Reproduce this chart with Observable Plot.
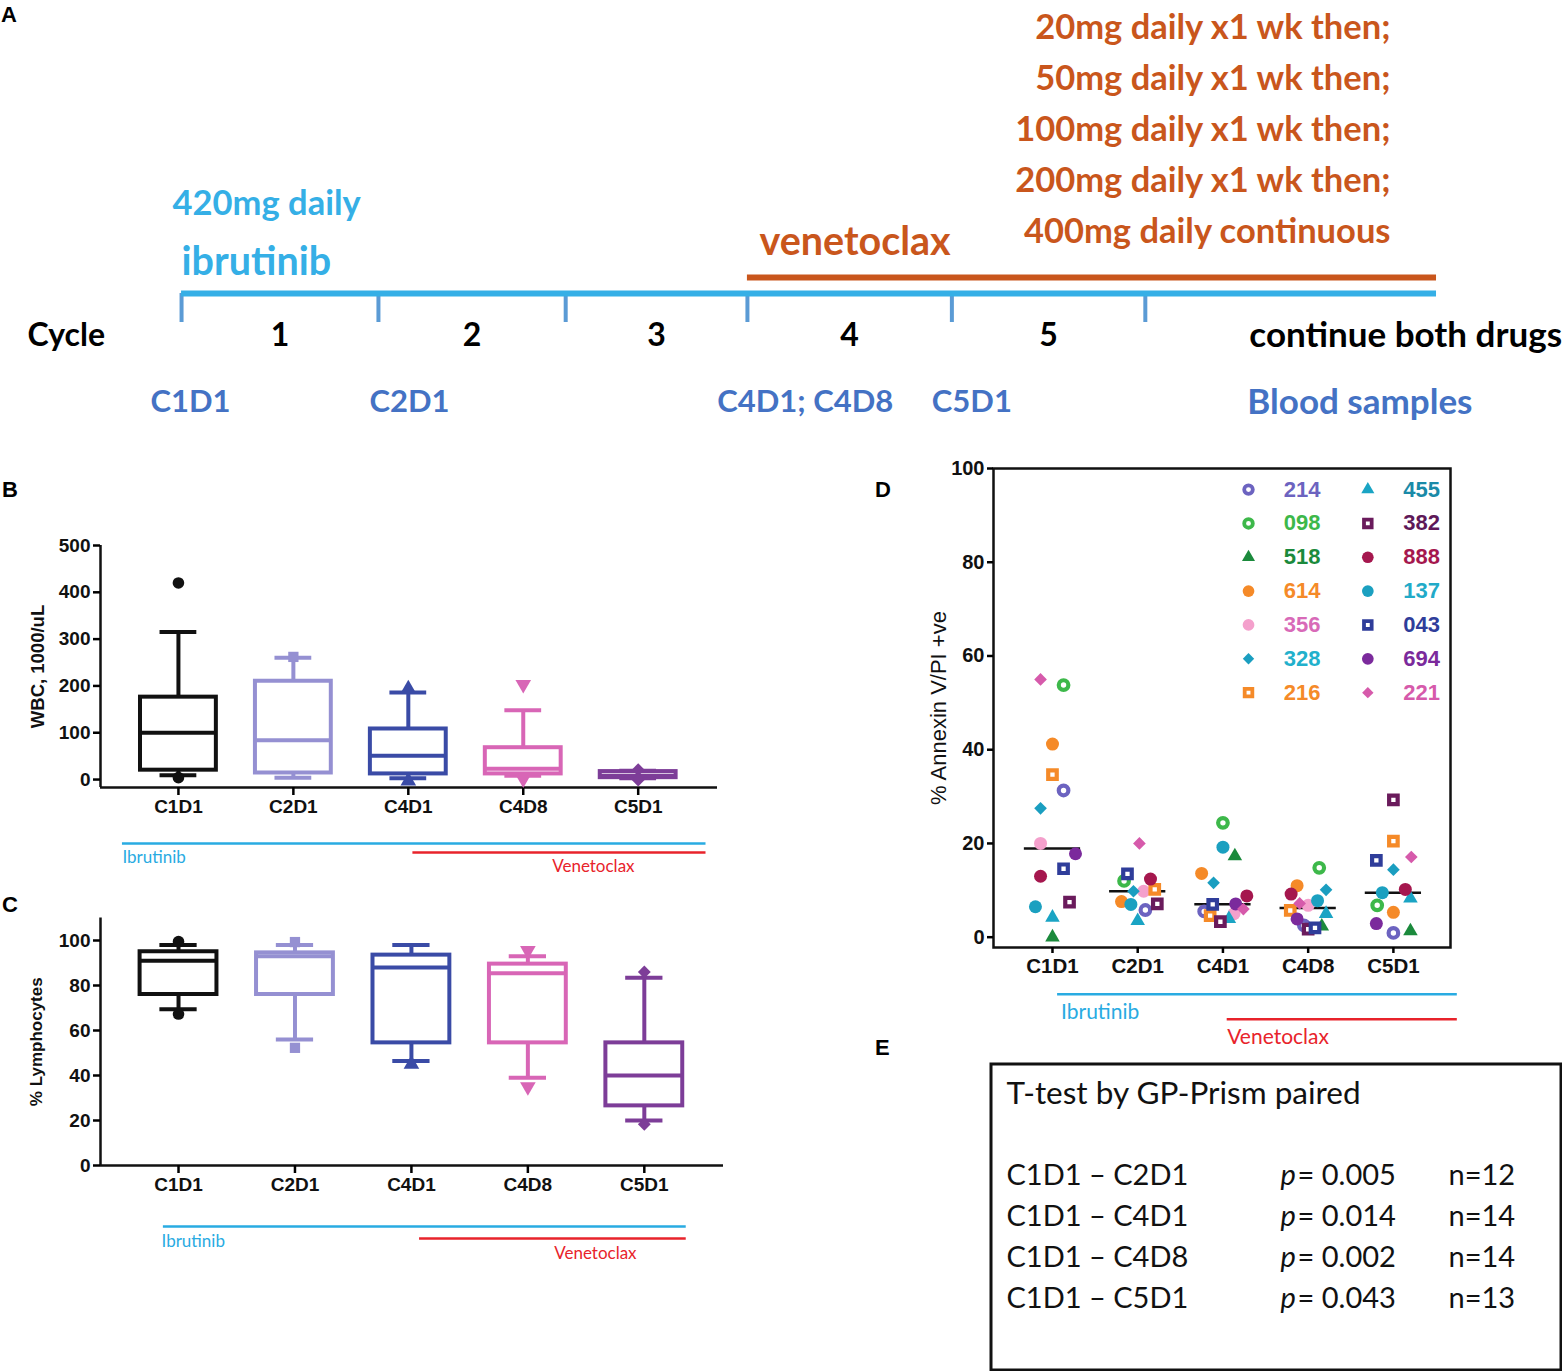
<!DOCTYPE html>
<html>
<head>
<meta charset="utf-8">
<script src="https://cdn.jsdelivr.net/npm/d3@7"></script>
<script src="https://cdn.jsdelivr.net/npm/@observablehq/plot@0.6"></script>
<style>
  html, body { margin: 0; padding: 0; background: #fff; }
  #page { position: relative; width: 1562px; height: 1371px; overflow: hidden; background: #fff; }
  .panel { position: absolute; }
  .panel svg { overflow: visible; display: block; background: transparent; }
  .plabel { position: absolute; font: bold 22px "Liberation Sans", Arial, sans-serif; color: #000; line-height: 22px; }
</style>
</head>
<body>
<div id="page"></div>
<script>
// ================= DATA =================
const timepoints = ["C1D1", "C2D1", "C4D1", "C4D8", "C5D1"];

// Panel A – treatment timeline (positions along the timeline)
const cycleNumbers = ["1", "2", "3", "4", "5"];
const cycleBoundaries = [0, 28.6, 55.8, 82.2, 111.9, 140];
const timelineEnd = 182.3;
const sampleLabels = ["C1D1", "C2D1", "C4D1; C4D8", "C5D1"];
const samplePositions = [1.3, 33.1, 90.6, 114.8];
const venetoclaxDoses = [
  "20mg daily x1 wk then;",
  "50mg daily x1 wk then;",
  "100mg daily x1 wk then;",
  "200mg daily x1 wk then;",
  "400mg daily continuous"
];

// Panel B – WBC (1000/uL) box summaries
const wbcWhiskerLow  = [9, 4, 3, 8, 3];
const wbcQ1          = [20, 14, 12, 12, 4];
const wbcMedian      = [100, 84, 51, 23, 8];
const wbcQ3          = [176, 210, 108, 68, 17];
const wbcWhiskerHigh = [315, 260, 186, 148, 19];
const wbcPointTime   = ["C1D1", "C1D1", "C2D1", "C4D1", "C4D1", "C4D8", "C4D8", "C5D1", "C5D1"];
const wbcPointValue  = [420, 4, 262, 194, -3, 203, 1, 21, -1];

// Panel C – % Lymphocytes box summaries
const lymWhiskerLow  = [69.5, 56, 46.5, 39, 20];
const lymQ1          = [76, 76, 54.5, 54.5, 26.5];
const lymMedian      = [91, 93, 88, 85.5, 40];
const lymQ3          = [95, 94.5, 93.5, 89.5, 54.5];
const lymWhiskerHigh = [98, 98, 98, 93, 83.5];
const lymPointTime   = ["C1D1", "C1D1", "C2D1", "C2D1", "C4D1", "C4D8", "C4D8", "C5D1", "C5D1"];
const lymPointValue  = [99.5, 67.3, 99.3, 52.3, 45, 95.5, 35, 86, 18.3];

// Panel D – % Annexin V/PI +ve per patient (order = legend order)
const patients = ["214", "098", "518", "614", "356", "328", "216", "455", "382", "888", "137", "043", "694", "221"];
const annexC1D1 = [31.3, 53.8, 0.0, 41.2, 20.0, 27.5, 34.7, 4.2, 7.5, 13.0, 6.5, 14.6, 17.8, 55.0];
const annexC2D1 = [5.8, 12.0, null, 7.6, 9.8, 9.8, 10.2, 3.5, 7.1, 12.4, 7.0, 13.5, null, 20.0];
const annexC4D1 = [5.5, 24.4, 17.3, 13.6, 5.0, 11.6, 4.6, 3.9, 3.3, 8.8, 19.2, 7.0, 7.1, 6.0];
const annexC4D8 = [2.5, 14.8, 2.3, 11.0, 6.8, 10.1, 5.7, 5.0, 1.7, 9.2, 7.8, 2.0, 3.9, 7.2];
const annexC5D1 = [0.9, 6.8, 1.3, 5.3, null, 14.4, 20.5, 8.3, 29.3, 10.2, 9.5, 16.4, 2.9, 17.1];
// horizontal scatter (jitter, in category widths) as drawn in the figure
const jitterC1D1 = [0.13, 0.13, 0, 0, -0.14, -0.14, 0, 0, 0.2, -0.14, -0.2, 0.13, 0.27, -0.14];
const jitterC2D1 = [0.09, -0.16, null, -0.19, 0.07, -0.05, 0.2, 0, 0.23, 0.15, -0.08, -0.12, null, 0.02];
const jitterC4D1 = [-0.22, 0, 0.14, -0.25, 0.13, -0.11, -0.15, 0.07, -0.03, 0.28, 0, -0.12, 0.15, 0.24];
const jitterC4D8 = [-0.05, 0.13, 0.16, -0.13, 0, 0.21, -0.21, 0.21, 0, -0.2, 0.11, 0.08, -0.13, -0.1];
const jitterC5D1 = [0, -0.19, 0.2, 0, null, 0, 0, 0.2, 0, 0.14, -0.13, -0.2, -0.2, 0.21];

// Panel E – paired t-tests
const comparisons = ["C1D1 – C2D1", "C1D1 – C4D1", "C1D1 – C4D8", "C1D1 – C5D1"];
const pValues = ["0.005", "0.014", "0.002", "0.043"];
const nValues = [12, 14, 14, 13];

// ================= STYLES =================
const ARIAL = "'Liberation Sans', Arial, sans-serif";
const CAL = "Lato, 'Open Sans', sans-serif";
const IBR = "#35afe6", IBR_TICK = "#5b9bd5", VEN = "#c9561c", SAMPLE = "#4472c4";
const ANN_BLUE = "#29abe2", ANN_RED = "#e8232b";
const boxColors = ["#111111", "#9590d2", "#3a4ba6", "#d866b6", "#7d3d98"];
const boxSymbols = ["circle", "square", "triangle", "triangle", "diamond2"];
const boxRotate = [0, 0, 0, 180, 0];
const patientColor = ["#6c63c0", "#3db84a", "#1b8a3c", "#f58a28", "#f4a0cc", "#1a9ec0", "#f58a28",
                      "#1aa4c4", "#6a1b5c", "#a5174e", "#1ba0c0", "#2f3d9a", "#7b2a9c", "#d65aab"];
const patientText  = ["#6c63c0", "#3db84a", "#1b8a3c", "#f58a28", "#d86ab8", "#22b0cc", "#f58a28",
                      "#1a8aa8", "#5e1858", "#a5174e", "#22aac8", "#2f3d9a", "#7b2a9c", "#d65aab"];
const patientSymbol = ["circle", "circle", "triangle", "circle", "circle", "diamond2", "square",
                       "triangle", "square", "circle", "circle", "square", "circle", "diamond2"];
const patientOpen = [true, true, false, false, false, false, true, false, true, false, false, true, false, false];

const page = document.getElementById("page");
function place(node, left, top) {
  const d = document.createElement("div");
  d.className = "panel";
  d.style.left = left + "px"; d.style.top = top + "px";
  d.appendChild(node);
  page.appendChild(d);
}
function label(txt, left, top) {
  const d = document.createElement("div");
  d.className = "plabel"; d.textContent = txt;
  d.style.left = left + "px"; d.style.top = top + "px";
  page.appendChild(d);
}

// ================= PANEL A =================
const txtA = {fontFamily: CAL, fontWeight: "bold", lineAnchor: "middle"};
const panelA = Plot.plot({
  width: 1562, height: 440, margin: 0,
  x: {domain: [-26.3, 200.6], range: [0, 1562], axis: null},
  y: {domain: [0, 440], range: [0, 440], axis: null},
  style: {background: "transparent"},
  marks: [
    Plot.ruleX(cycleBoundaries, {y1: 293, y2: 322, stroke: IBR_TICK, strokeWidth: 4}),
    Plot.ruleY([293], {x1: cycleBoundaries[0], x2: timelineEnd, stroke: IBR, strokeWidth: 6}),
    Plot.ruleY([277], {x1: cycleBoundaries[3], x2: timelineEnd, stroke: VEN, strokeWidth: 6}),
    Plot.text(["420mg daily"], {...txtA, x: cycleBoundaries[0], y: 203, dx: -9, textAnchor: "start", fill: IBR, fontSize: 34.5}),
    Plot.text(["ibrutinib"], {...txtA, x: cycleBoundaries[0], y: 262, textAnchor: "start", fill: IBR, fontSize: 39.5}),
    Plot.text(["venetoclax"], {...txtA, x: cycleBoundaries[3], y: 242, dx: 12, textAnchor: "start", fill: VEN, fontSize: 39.5}),
    Plot.text(venetoclaxDoses, {...txtA, text: d => d, x: timelineEnd, dx: -46, y: (d, i) => 27 + i * 51,
      textAnchor: "end", fill: VEN, fontSize: 34.5}),
    Plot.text(["Cycle"], {...txtA, frameAnchor: "left", dx: 27, y: 335, textAnchor: "start", fill: "#000", fontSize: 32}),
    Plot.text(cycleNumbers, {...txtA, text: d => d,
      x: (d, i) => (cycleBoundaries[i] + cycleBoundaries[i + 1]) / 2, y: 335, fill: "#000", fontSize: 32}),
    Plot.text(["continue both drugs"], {...txtA, x: cycleBoundaries[5], dx: 104, y: 335, textAnchor: "start", fill: "#000", fontSize: 35}),
    Plot.text(sampleLabels, {...txtA, text: d => d, x: (d, i) => samplePositions[i], y: 402, fill: SAMPLE, fontSize: 31}),
    Plot.text(["Blood samples"], {...txtA, x: cycleBoundaries[5], dx: 102, y: 402, textAnchor: "start", fill: SAMPLE, fontSize: 35})
  ]
});
place(panelA, 0, 0);

// ================= BOX PANELS (B, C) =================
function boxPanel(cfg) {
  const rows = timepoints.map((t, i) => ({
    i, lo: cfg.lo[i], q1: cfg.q1[i], med: cfg.med[i], q3: cfg.q3[i], hi: cfg.hi[i], c: boxColors[i]
  }));
  const pts = cfg.ptT.map((t, k) => ({i: timepoints.indexOf(t), v: cfg.ptV[k]}));
  const sw = 4, half = 0.33, cap = 0.16;
  const [x0, x1] = cfg.xDomain;
  const marks = [
    Plot.ruleX([x0], {y1: cfg.yDomain[0], y2: cfg.yTop, stroke: "#111", strokeWidth: 2.5}),
    Plot.ruleY([cfg.yDomain[0]], {x1: x0, x2: x1, stroke: "#111", strokeWidth: 2.5}),
    Plot.axisY({ticks: cfg.yTicks, tickSize: 7, tickPadding: 3, fontSize: 19, fontWeight: "bold",
      fontFamily: ARIAL, fill: "#111", strokeWidth: 2.5, label: null}),
    Plot.axisX({ticks: [0, 1, 2, 3, 4], tickFormat: i => timepoints[i], tickSize: 8, tickPadding: 4,
      fontSize: 19, fontWeight: "bold", fontFamily: ARIAL, fill: "#111", strokeWidth: 2.5, label: null}),
    Plot.text([cfg.yLabel], {frameAnchor: "left", textAnchor: "middle", dx: -cfg.labelOffset, rotate: -90,
      fontSize: cfg.labelSize, fontWeight: "bold", fontFamily: ARIAL, fill: "#111"}),
    Plot.ruleX(rows, {x: "i", y1: "q3", y2: "hi", stroke: "c", strokeWidth: sw}),
    Plot.ruleX(rows, {x: "i", y1: "lo", y2: "q1", stroke: "c", strokeWidth: sw}),
    Plot.ruleY(rows, {y: "hi", x1: d => d.i - cap, x2: d => d.i + cap, stroke: "c", strokeWidth: sw}),
    Plot.ruleY(rows, {y: "lo", x1: d => d.i - cap, x2: d => d.i + cap, stroke: "c", strokeWidth: sw}),
    Plot.rect(rows, {x1: d => d.i - half, x2: d => d.i + half, y1: "q1", y2: "q3", fill: "white", stroke: "c", strokeWidth: sw}),
    Plot.ruleY(rows, {y: "med", x1: d => d.i - half, x2: d => d.i + half, stroke: "c", strokeWidth: sw})
  ];
  timepoints.forEach((t, i) => {
    marks.push(Plot.dot(pts.filter(p => p.i === i), {x: "i", y: "v", symbol: boxSymbols[i], rotate: boxRotate[i],
      fill: boxColors[i], stroke: "none", r: 5.8}));
  });
  const a = cfg.annot;
  marks.push(
    Plot.ruleY([a.blueY], {x1: a.blueX1, x2: a.blueX2, stroke: ANN_BLUE, strokeWidth: 2.5}),
    Plot.text(["Ibrutinib"], {x: a.blueTextX, y: a.blueTextY, textAnchor: "start", fill: ANN_BLUE, fontSize: 17, fontFamily: CAL}),
    Plot.ruleY([a.redY], {x1: a.redX1, x2: a.blueX2, stroke: ANN_RED, strokeWidth: 2.5}),
    Plot.text(["Venetoclax"], {x: a.redTextX, y: a.redTextY, textAnchor: "middle", fill: ANN_RED, fontSize: 17, fontFamily: CAL})
  );
  return Plot.plot({
    width: cfg.width, height: cfg.height,
    marginLeft: cfg.mLeft, marginRight: cfg.mRight, marginTop: cfg.mTop, marginBottom: cfg.mBottom,
    x: {domain: cfg.xDomain}, y: {domain: cfg.yDomain},
    color: {type: "identity"},
    style: {background: "transparent", fontFamily: ARIAL},
    marks
  });
}

const panelB = boxPanel({
  lo: wbcWhiskerLow, q1: wbcQ1, med: wbcMedian, q3: wbcQ3, hi: wbcWhiskerHigh,
  ptT: wbcPointTime, ptV: wbcPointValue,
  xDomain: [-0.678, 4.69], yDomain: [-17, 500], yTop: 500, yTicks: [0, 100, 200, 300, 400, 500],
  yLabel: "WBC, 1000/uL", labelOffset: 62, labelSize: 18.5,
  width: 730, height: 350, mLeft: 100, mRight: 13, mTop: 15, mBottom: 93,
  annot: {blueY: -136.8, blueX1: -0.487, blueX2: 4.59, blueTextX: -0.487, blueTextY: -166.5,
          redY: -156, redX1: 2.04, redTextX: 3.61, redTextY: -186}
});
place(panelB, 0, 530);

const panelC = boxPanel({
  lo: lymWhiskerLow, q1: lymQ1, med: lymMedian, q3: lymQ3, hi: lymWhiskerHigh,
  ptT: lymPointTime, ptV: lymPointValue,
  xDomain: [-0.67, 4.68], yDomain: [0, 110], yTop: 110, yTicks: [0, 20, 40, 60, 80, 100],
  yLabel: "% Lymphocytes", labelOffset: 64, labelSize: 17,
  width: 730, height: 370, mLeft: 100, mRight: 7, mTop: 17.5, mBottom: 105,
  annot: {blueY: -27.1, blueX1: -0.13, blueX2: 4.36, blueTextX: -0.146, blueTextY: -33.8,
          redY: -32.4, redX1: 2.07, redTextX: 3.58, redTextY: -39.1}
});
place(panelC, 0, 900);

// ================= PANEL D =================
const annex = [annexC1D1, annexC2D1, annexC4D1, annexC4D8, annexC5D1];
const jitter = [jitterC1D1, jitterC2D1, jitterC4D1, jitterC4D8, jitterC5D1];
const medD = timepoints.map((t, i) => ({i, med: d3.median(annex[i].filter(v => v != null))}));
function markerStyle(k, scale) {
  const s = patientSymbol[k];
  const open = patientOpen[k];
  let r = s === "circle" ? (open ? 4.8 : 6.5) : s === "square" ? 4.8 : s === "triangle" ? 5.4 : 5.7;
  return {symbol: s, r: r * scale, fill: open ? "white" : patientColor[k],
          stroke: open ? patientColor[k] : "none", strokeWidth: open ? 4.2 * scale : 0};
}
const dMarks = [
  Plot.frame({stroke: "#111", strokeWidth: 2.5}),
  Plot.axisY({ticks: [0, 20, 40, 60, 80, 100], tickSize: 6, tickPadding: 3, fontSize: 20, fontWeight: "bold",
    fontFamily: ARIAL, fill: "#111", strokeWidth: 2.5, label: null}),
  Plot.axisX({ticks: [0, 1, 2, 3, 4], tickFormat: i => timepoints[i], tickSize: 6, tickPadding: 5,
    fontSize: 20.5, fontWeight: "bold", fontFamily: ARIAL, fill: "#111", strokeWidth: 2.5, label: null}),
  Plot.text(["% Annexin V/PI +ve"], {frameAnchor: "left", textAnchor: "middle", dx: -55, rotate: -90, fontSize: 22,
    fontFamily: ARIAL, fill: "#111"}),
  Plot.ruleY(medD, {y: "med", x1: d => d.i - 0.33, x2: d => d.i + 0.33, stroke: "#111", strokeWidth: 2.5})
];
patients.forEach((p, k) => {
  const pts = [];
  timepoints.forEach((t, i) => {
    const v = annex[i][k];
    if (v != null) pts.push({x: i + jitter[i][k], v});
  });
  dMarks.push(Plot.dot(pts, {x: "x", y: "v", ...markerStyle(k, 1)}));
});
// legend
const legendRows = patients.map((p, k) => ({p, k, col: Math.floor(k / 7), row: k % 7}));
legendRows.forEach(d => {
  dMarks.push(Plot.dot([d], {x: d.col ? 3.70 : 2.30, y: 95.5 - d.row * 7.22, ...markerStyle(d.k, 0.9)}));
});
dMarks.push(Plot.text(legendRows, {x: d => d.col ? 4.33 : 2.93, y: d => 95.5 - d.row * 7.22, text: "p",
  fill: d => patientText[d.k], fontSize: 22, fontWeight: "bold", fontFamily: ARIAL}));
// treatment bars
dMarks.push(
  Plot.ruleY([-12.2], {x1: 0.06, x2: 4.75, stroke: ANN_BLUE, strokeWidth: 2.5}),
  Plot.text(["Ibrutinib"], {x: 0.1, y: -16, textAnchor: "start", fill: ANN_BLUE, fontSize: 21, fontFamily: CAL}),
  Plot.ruleY([-17.5], {x1: 2.05, x2: 4.75, stroke: ANN_RED, strokeWidth: 2.5}),
  Plot.text(["Venetoclax"], {x: 2.05, y: -21.3, textAnchor: "start", fill: ANN_RED, fontSize: 21, fontFamily: CAL})
);
const panelD = Plot.plot({
  width: 682, height: 600, marginLeft: 113, marginRight: 112, marginTop: 13, marginBottom: 108,
  x: {domain: [-0.692, 4.67]}, y: {domain: [-2.2, 100]},
  color: {type: "identity"},
  style: {background: "transparent", fontFamily: ARIAL},
  marks: dMarks
});
place(panelD, 880, 455);

// ================= PANEL E =================
const txtE = {fontFamily: CAL, fontSize: 29, fill: "#111", textAnchor: "start", frameAnchor: "left"};
const panelE = Plot.plot({
  width: 573, height: 309, margin: 0,
  x: {domain: [0, 1], range: [0, 573], axis: null},
  y: {domain: [-2.756, 4.78], range: [0, 309], axis: null},
  style: {background: "transparent"},
  marks: [
    Plot.frame({stroke: "#111", strokeWidth: 3, inset: 1.5}),
    Plot.text(["T-test by GP-Prism paired"], {...txtE, fontSize: 31.5, y: -2, dx: 17}),
    Plot.text(comparisons, {...txtE, text: d => d, y: (d, i) => i, dx: 17}),
    Plot.text(pValues, {...txtE, text: () => "p", y: (d, i) => i, dx: 291, fontStyle: "italic"}),
    Plot.text(pValues, {...txtE, text: d => "= " + d, y: (d, i) => i, dx: 308}),
    Plot.text(nValues, {...txtE, text: d => "n=" + d, y: (d, i) => i, dx: 459})
  ]
});
place(panelE, 989, 1062);

// panel letters
label("A", 1, 4);
label("B", 2, 479);
label("C", 2, 894);
label("D", 875, 479);
label("E", 875, 1037);
</script>
</body>
</html>
